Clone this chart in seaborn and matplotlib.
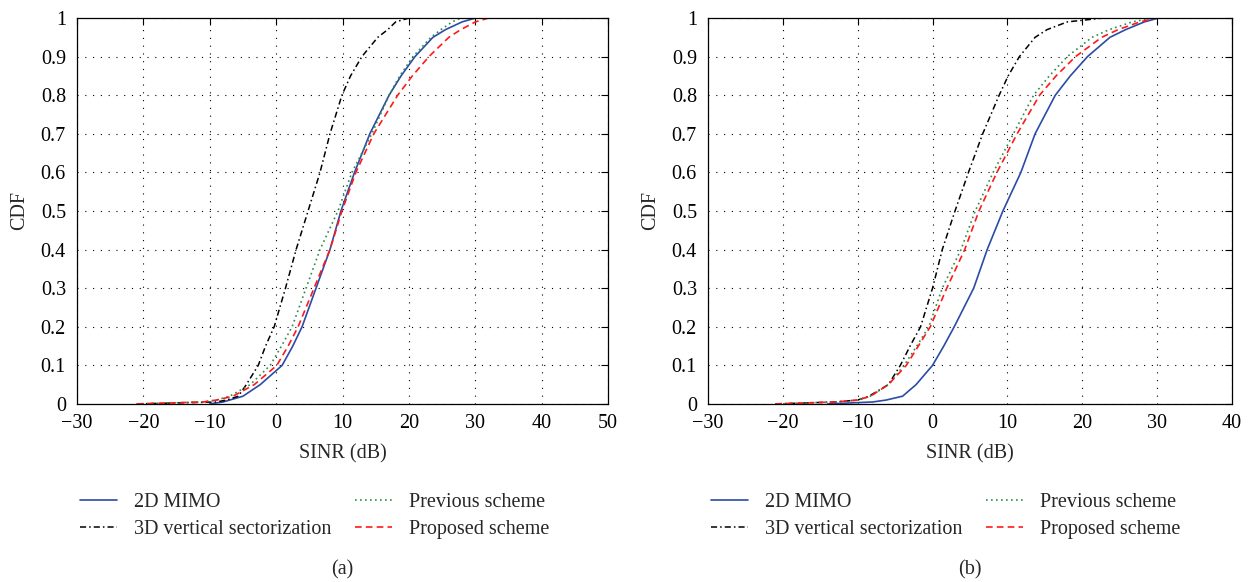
import matplotlib
matplotlib.use("Agg")
import matplotlib.pyplot as plt
import seaborn as sns
import numpy as np

# ---------------- data ----------------
cdf_levels = [0.0, 0.005, 0.01, 0.02, 0.05, 0.1, 0.15, 0.2, 0.3, 0.4, 0.5, 0.6, 0.7, 0.8,
              0.85, 0.9, 0.95, 0.97, 0.99, 1.0, 1.0]

# panel (a)
a_mimo2d   = [-10.0, -8.0, -7.0, -5.0, -2.4, 0.9, 2.5, 3.9, 6.0, 8.1, 9.75, 11.8, 14.1, 17.0,
              18.8, 20.9, 23.6, 25.5, 28.0, 30.0, 30.5]
a_vert3d   = [-21.0, -9.0, -7.5, -5.7, -4.5, -2.7, -1.6, -0.3, 1.4, 3.0, 4.8, 6.6, 8.1, 9.9,
              11.2, 12.9, 15.3, 16.8, 18.0, 20.0, 20.5]
a_previous = [-21.0, -11.0, -9.0, -7.0, -3.9, -0.9, 0.8, 2.4, 4.5, 6.6, 9.3, 11.4, 14.4, 17.0,
              18.6, 20.6, 23.3, 24.8, 26.5, 27.8, 28.5]
a_proposed = [-21.0, -11.0, -9.0, -6.5, -3.3, 0.1, 1.8, 3.3, 5.7, 8.1, 9.9, 12.0, 14.7, 18.3,
              20.5, 23.0, 26.0, 27.8, 30.0, 32.0, 40.0]

# panel (b)
b_mimo2d   = [-14.0, -8.0, -6.2, -4.0, -2.2, 0.0, 1.5, 2.9, 5.5, 7.3, 9.4, 11.8, 13.7, 16.4,
              18.4, 20.7, 23.7, 25.8, 28.3, 30.2, 36.0]
b_vert3d   = [-21.0, -13.0, -10.0, -8.5, -5.9, -4.3, -3.0, -1.6, 0.0, 1.3, 3.0, 4.8, 6.7, 8.9,
              10.1, 11.6, 13.7, 15.3, 18.0, 22.8, 23.0]
b_previous = [-21.0, -13.0, -10.0, -8.3, -5.9, -3.8, -2.1, -0.5, 1.3, 3.8, 5.7, 8.1, 10.8, 13.5,
              15.6, 18.0, 21.3, 23.6, 26.7, 29.3, 29.5]
b_proposed = [-21.0, -13.0, -10.0, -8.3, -5.9, -3.5, -1.9, -0.3, 1.9, 4.3, 6.2, 8.6, 11.3, 14.3,
              16.5, 19.1, 22.6, 24.8, 27.7, 29.9, 30.0]

series_names = ["2D MIMO", "3D vertical sectorization", "Previous scheme", "Proposed scheme"]
x_ticks_a = [-30, -20, -10, 0, 10, 20, 30, 40, 50]
x_ticks_b = [-30, -20, -10, 0, 10, 20, 30, 40]
y_ticks = [0, 0.1, 0.2, 0.3, 0.4, 0.5, 0.6, 0.7, 0.8, 0.9, 1]
y_tick_labels = ["0", "0.1", "0.2", "0.3", "0.4", "0.5", "0.6", "0.7", "0.8", "0.9", "1"]

# ---------------- style ----------------
sns.set_theme(style="white")
plt.rcParams["font.family"] = ["Liberation Serif", "DejaVu Serif"]

styles = [
    dict(color="#2b4ca6", linestyle="-", linewidth=1.2),
    dict(color="black", linestyle=(0, (4, 2, 1, 2)), linewidth=1.1),
    dict(color="#2e8b4a", linestyle=(0, (1, 2)), linewidth=1.2),
    dict(color="#ff1a1a", linestyle=(0, (4, 2.5)), linewidth=1.2),
]

fig = plt.figure(figsize=(12.54, 5.82), dpi=100)
ax_a = fig.add_axes([0.0614, 0.306, 0.4236, 0.663])
ax_b = fig.add_axes([0.5646, 0.306, 0.4178, 0.663])

panels = [
    (ax_a, [a_mimo2d, a_vert3d, a_previous, a_proposed], x_ticks_a, (-30, 50), "(a)"),
    (ax_b, [b_mimo2d, b_vert3d, b_previous, b_proposed], x_ticks_b, (-30, 40), "(b)"),
]

fs = 14.5
for ax, data, xt, xlim, cap in panels:
    for name, xs, st in zip(series_names, data, styles):
        sns.lineplot(x=xs, y=cdf_levels, ax=ax, sort=False, label=name, **st)
    ax.set_xlim(*xlim)
    ax.set_ylim(0, 1)
    ax.set_xticks(xt)
    ax.set_xticklabels([("\u2212" + str(-v)) if v < 0 else str(v) for v in xt])
    ax.set_yticks(y_ticks)
    ax.set_yticklabels(y_tick_labels)
    ax.grid(True, color="black", linestyle=(0, (1, 6)), linewidth=0.8)
    ax.tick_params(direction="in", length=5, width=0.8, top=True, right=True,
                   labelsize=fs, colors="black")
    ax.tick_params(axis="y", pad=8)
    ax.tick_params(axis="x", pad=7)
    for sp in ax.spines.values():
        sp.set_color("black")
        sp.set_linewidth(0.9)
    ax.set_xlabel("SINR (dB)", fontsize=fs, labelpad=8)
    ax.set_ylabel("CDF", fontsize=fs, labelpad=8)
    ax.legend(loc="upper left", bbox_to_anchor=(-0.01, -0.21), ncol=2, frameon=False,
              fontsize=fs, handlelength=1.85, handletextpad=0.85, columnspacing=1.15,
              labelspacing=0.4, borderaxespad=0)
    ax.text(0.5, -0.43, cap, transform=ax.transAxes, ha="center", va="center", fontsize=fs)

fig.savefig("out.png", dpi=100)
